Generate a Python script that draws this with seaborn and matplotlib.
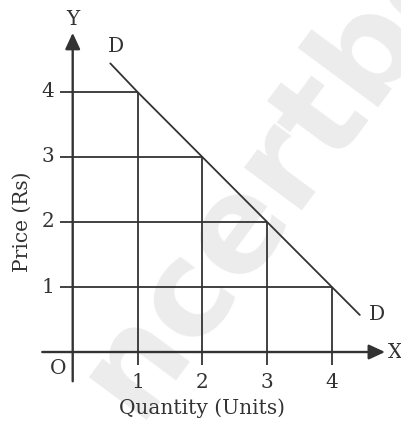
import matplotlib
matplotlib.use("Agg")
import matplotlib.pyplot as plt
import seaborn as sns
import pandas as pd

# demand schedule (points on the grid)
quantity = [1, 2, 3, 4]
price = [4, 3, 2, 1]

# the D-D line as drawn, running a little past the schedule at both ends
demand_q = [0.58, 1, 2, 3, 4, 4.43]
demand_p = [4.44, 4, 3, 2, 1, 0.57]

x_tick_labels = ["1", "2", "3", "4"]
y_tick_labels = ["4", "3", "2", "1"]

sns.set_theme(style="white")
plt.rcParams["font.family"] = ["DejaVu Serif"]

ink = "#333333"
fs = 14.5

fig = plt.figure(figsize=(4.01, 4.23), dpi=100)
ax = fig.add_axes([0, 0, 1, 1])
ax.set_xlim(-1.122, 5.066)
ax.set_ylim(-1.092, 5.415)
ax.axis("off")

# faint watermark
ax.text(0.53, -0.71, "ncertbooks", fontsize=95, fontweight="bold",
        family="DejaVu Sans", color="#ececec", rotation=53.5,
        rotation_mode="anchor", ha="left", va="center", zorder=0,
        clip_on=True)

# guide lines from the axes to each point
ax.hlines(price, -0.2, quantity, color=ink, lw=1.3, zorder=2)
ax.vlines(quantity, -0.2, price, color=ink, lw=1.3, zorder=2)

# demand curve
df = pd.DataFrame({"q": demand_q, "p": demand_p})
sns.lineplot(data=df, x="q", y="p", ax=ax, color=ink, lw=1.3, sort=False, zorder=3)

# axes with arrow heads
arrow = dict(arrowstyle="-|>,head_length=0.65,head_width=0.3", color=ink,
             lw=1.7, shrinkA=0, shrinkB=0, mutation_scale=15)
ax.annotate("", xy=(4.82, 0), xytext=(-0.47, 0), arrowprops=arrow, zorder=4)
ax.annotate("", xy=(0, 4.91), xytext=(0, -0.45), arrowprops=arrow, zorder=4)

# tick labels
for q, lab in zip(quantity, x_tick_labels):
    ax.text(q, -0.47, lab, fontsize=fs, color=ink, ha="center", va="center")
for p, lab in zip(price, y_tick_labels):
    ax.text(-0.38, p, lab, fontsize=fs, color=ink, ha="center", va="center")

# letters
ax.text(-0.23, -0.26, "O", fontsize=fs, color=ink, ha="center", va="center")
ax.text(4.97, 0, "X", fontsize=fs, color=ink, ha="center", va="center")
ax.text(0, 5.11, "Y", fontsize=fs, color=ink, ha="center", va="center")
ax.text(0.67, 4.7, "D", fontsize=fs, color=ink, ha="center", va="center")
ax.text(4.7, 0.57, "D", fontsize=fs, color=ink, ha="center", va="center")

# axis titles
ax.text(2.0, -0.87, "Quantity (Units)", fontsize=fs, color=ink,
        ha="center", va="center")
ax.text(-0.78, 2.0, "Price (Rs)", fontsize=fs, color=ink, rotation=90,
        ha="center", va="center")

fig.savefig("out.png", dpi=100)
